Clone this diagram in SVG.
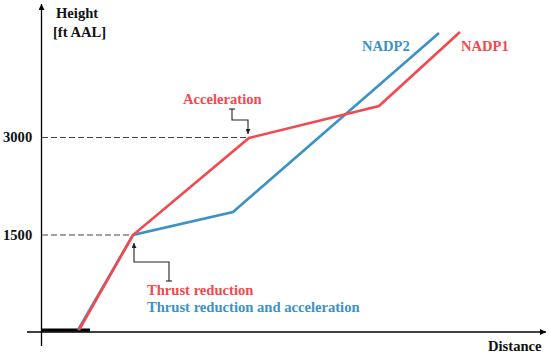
<svg xmlns="http://www.w3.org/2000/svg" width="550" height="357" viewBox="0 0 550 357">
<style>
text{font-family:"Liberation Serif","DejaVu Serif",serif;font-weight:bold;font-size:14.6px}
.k{fill:#111}
.r{fill:#f5474e}
.b{fill:#3a92c8}
.ax{stroke:#000;stroke-width:1.3;fill:none}
.dash{stroke:#444;stroke-width:1.1;stroke-dasharray:6 3;fill:none}
.br{stroke:#222;stroke-width:1.1;fill:none}
.rl{stroke:#f5474e;stroke-width:2.6;fill:none;stroke-linejoin:miter}
.bl{stroke:#3a92c8;stroke-width:2.6;fill:none;stroke-linejoin:miter}
</style>
<defs>
<marker id="ah" viewBox="0 0 10 10" refX="10" refY="5" markerWidth="6" markerHeight="6" orient="auto" markerUnits="userSpaceOnUse">
<path d="M0,0 L10,5 L0,10 z" fill="#000"/>
</marker>
<marker id="ahs" viewBox="0 0 10 10" refX="10" refY="5" markerWidth="5" markerHeight="5" orient="auto" markerUnits="userSpaceOnUse">
<path d="M0,0 L10,5 L0,10 z" fill="#222"/>
</marker>
</defs>
<rect width="550" height="357" fill="#fff"/>
<g id="axes">
<line class="ax" x1="41.5" y1="346" x2="41.5" y2="4" marker-end="url(#ah)"/>
<line class="ax" x1="27" y1="332" x2="546" y2="332" marker-end="url(#ah)"/>
<rect x="42" y="328.5" width="48" height="3.2" fill="#000"/>
<text class="k" x="56" y="18">Height</text>
<text class="k" x="53" y="37">[ft AAL]</text>
<text class="k" x="3" y="142">3000</text>
<text class="k" x="3" y="240">1500</text>
<text class="k" x="488" y="351">Distance</text>
</g>
<g id="guides">
<line class="dash" x1="42" y1="137.5" x2="249" y2="137.5"/>
<line class="dash" x1="42" y1="235" x2="133" y2="235"/>
</g>
<g id="connectors">
<path class="br" d="M232,109 V120 H248 V134" marker-end="url(#ahs)"/>
<line class="br" x1="229" y1="109" x2="235" y2="109"/>
<path class="br" d="M169,281 V262 H134 V243" marker-end="url(#ahs)"/>
<line class="br" x1="166" y1="281" x2="172" y2="281"/>
</g>
<g id="nadp2">
<polyline class="bl" points="78,330 133,235 233,212 439,33"/>
<text class="b" x="362" y="51">NADP2</text>
</g>
<g id="nadp1">
<polyline class="rl" points="79,330 133,235 249,138 379,106 460,32"/>
<text class="r" x="461" y="51">NADP1</text>
</g>
<g id="label-acceleration">
<text class="r" x="183" y="104">Acceleration</text>
</g>
<g id="label-thrust">
<text class="r" x="147" y="295">Thrust reduction</text>
<text class="b" x="147" y="312">Thrust reduction and acceleration</text>
</g>
</svg>
